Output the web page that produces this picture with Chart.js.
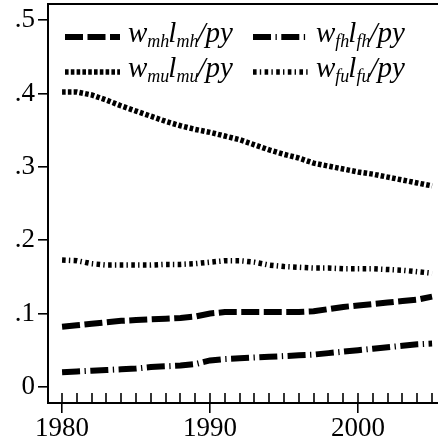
<!DOCTYPE html>
<html>
<head>
<meta charset="utf-8">
<script src="https://cdn.jsdelivr.net/npm/chart.js@4.4.0/dist/chart.umd.min.js"></script>
<style>
  html, body { margin: 0; padding: 0; background: #fff; }
  canvas { display: block; }
</style>
</head>
<body>
<canvas id="myChart" width="438" height="448"></canvas>
<script>
'use strict';
const years = [1980, 1981, 1982, 1983, 1984, 1985, 1986, 1987, 1988, 1989,
  1990, 1991, 1992, 1993, 1994, 1995, 1996, 1997, 1998, 1999,
  2000, 2001, 2002, 2003, 2004, 2005];
const wmh = [0.082, 0.084, 0.086, 0.088, 0.090, 0.091, 0.092, 0.093, 0.094, 0.096,
  0.100, 0.102, 0.102, 0.102, 0.102, 0.102, 0.102, 0.103, 0.106, 0.109,
  0.111, 0.113, 0.115, 0.117, 0.119, 0.123];
const wfh = [0.020, 0.021, 0.022, 0.023, 0.024, 0.025, 0.027, 0.028, 0.029, 0.031,
  0.036, 0.038, 0.039, 0.040, 0.041, 0.042, 0.043, 0.044, 0.046, 0.048,
  0.050, 0.052, 0.054, 0.056, 0.058, 0.059];
const wmu = [0.402, 0.402, 0.398, 0.391, 0.383, 0.376, 0.369, 0.362, 0.356, 0.351,
  0.347, 0.342, 0.337, 0.330, 0.323, 0.317, 0.312, 0.305, 0.301, 0.297,
  0.293, 0.290, 0.286, 0.282, 0.278, 0.274];
const wfu = [0.173, 0.172, 0.168, 0.166, 0.166, 0.166, 0.166, 0.167, 0.167, 0.168,
  0.170, 0.172, 0.172, 0.170, 0.166, 0.164, 0.163, 0.162, 0.162, 0.161,
  0.161, 0.161, 0.160, 0.159, 0.157, 0.155];
const legendSubs = ['mh', 'fh', 'mu', 'fu'];
const xLabelYears = [1980, 1990, 2000];
const yTickValues = [0, 0.1, 0.2, 0.3, 0.4, 0.5];
const yTickLabels = ['0', '.1', '.2', '.3', '.4', '.5'];

const serif = '"Liberation Serif", "DejaVu Serif", serif';

function series(data, dash, width) {
  return {
    data: data.map((v, i) => ({x: years[i], y: v})),
    borderColor: '#000',
    borderWidth: width,
    borderDash: dash,
    borderCapStyle: 'butt',
    pointRadius: 0,
    tension: 0,
    fill: false
  };
}

const datasets = [
  series(wmh, [18, 4.5], 6),
  series(wfh, [18, 4.5, 1.3, 4.5], 6),
  series(wmu, [3.6, 2.2], 5.5),
  series(wfu, [3.6, 3.2, 1.4, 3.4], 5.5)
];

// frame on top, inward year ticks, and the legend
const extras = {
  id: 'extras',
  afterDatasetsDraw(chart) {
    const ctx = chart.ctx;
    const a = chart.chartArea;
    const xs = chart.scales.x;
    ctx.save();
    ctx.strokeStyle = '#000';
    ctx.lineWidth = 2;
    ctx.beginPath();
    ctx.moveTo(a.left - 1, a.top);
    ctx.lineTo(a.right, a.top);
    ctx.stroke();
    ctx.lineWidth = 1.6;
    for (let i = 0; i < years.length; i++) {
      const px = Math.round(xs.getPixelForValue(years[i]));
      ctx.beginPath();
      ctx.moveTo(px, a.bottom);
      ctx.lineTo(px, a.bottom - 10);
      ctx.stroke();
    }

    const cols = [a.left + 17, a.left + 205];
    const rows = [a.top + 38, a.top + 73];
    for (let k = 0; k < datasets.length; k++) {
      const ds = datasets[k];
      const x0 = cols[k % 2];
      const yb = rows[Math.floor(k / 2)];
      ctx.lineWidth = ds.borderWidth;
      ctx.lineCap = 'butt';
      ctx.setLineDash(ds.borderDash);
      ctx.beginPath();
      ctx.moveTo(x0, yb - 5);
      ctx.lineTo(x0 + 55, yb - 5);
      ctx.stroke();
      ctx.setLineDash([]);

      const sub = legendSubs[k];
      const parts = [['w', 0], [sub, 1], ['l', 0], [sub, 1], ['/py', 0]];
      let tx = x0 + 63;
      ctx.fillStyle = '#000';
      ctx.textBaseline = 'alphabetic';
      ctx.textAlign = 'left';
      for (const p of parts) {
        ctx.font = p[1] ? 'italic 18px ' + serif : 'italic 29px ' + serif;
        ctx.fillText(p[0], tx, yb + (p[1] ? 5 : 0));
        tx += ctx.measureText(p[0]).width - (p[1] ? 1 : 0);
      }
    }
    ctx.restore();
  }
};

const ctx = document.getElementById('myChart').getContext('2d');
const chart = new Chart(ctx, {
  type: 'line',
  data: {datasets: datasets},
  plugins: [extras],
  options: {
    responsive: false,
    animation: false,
    layout: {padding: {top: 4, right: 0, left: 0, bottom: 0}},
    plugins: {legend: {display: false}, tooltip: {enabled: false}},
    scales: {
      x: {
        type: 'linear',
        min: 1979.05,
        max: 2005.4,
        afterBuildTicks: (s) => { s.ticks = xLabelYears.map(v => ({value: v})); },
        afterFit: (s) => { s.height = 45; s.paddingLeft = 0; s.paddingRight = 0; },
        grid: {display: true, drawOnChartArea: false, drawTicks: true, tickLength: 10, color: '#000', lineWidth: 1.6},
        border: {display: true, color: '#000', width: 2},
        ticks: {
          color: '#000',
          padding: 0,
          maxRotation: 0,
          font: {family: serif, size: 27},
          callback: (v) => String(v)
        }
      },
      y: {
        min: -0.022,
        max: 0.522,
        afterBuildTicks: (s) => { s.ticks = yTickValues.map(v => ({value: v})); },
        afterFit: (s) => { s.width = 48; s.paddingTop = 0; s.paddingBottom = 0; },
        grid: {display: true, drawOnChartArea: false, drawTicks: true, tickLength: 10, color: '#000', lineWidth: 1.6},
        border: {display: true, color: '#000', width: 2},
        ticks: {
          color: '#000',
          padding: 3,
          font: {family: serif, size: 27},
          callback: (v, i) => yTickLabels[i]
        }
      }
    }
  }
});
</script>
</body>
</html>
